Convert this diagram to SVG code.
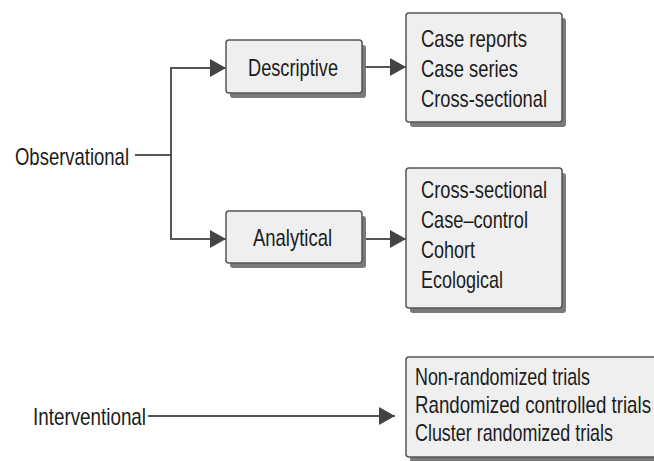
<svg xmlns="http://www.w3.org/2000/svg" width="654" height="461" viewBox="0 0 654 461">
<style>
.t{font-family:"Liberation Sans",Arial,sans-serif;font-size:24px;fill:#1c1c1c}
.box{fill:#efefef;stroke:#555;stroke-width:1.5}
.sh{fill:#7a7a7a}
.ln{fill:none;stroke:#555;stroke-width:2}
</style>
<defs>
<marker id="ah" markerUnits="userSpaceOnUse" viewBox="0 0 16 18" refX="16" refY="9" markerWidth="16" markerHeight="18" orient="auto">
<path d="M0,0 L16,9 L0,18 z" fill="#444"/>
</marker>
</defs>
<rect width="654" height="461" fill="#fff"/>
<g id="connectors">
<line class="ln" x1="135" y1="155" x2="171" y2="155"/>
<line class="ln" x1="171" y1="67" x2="171" y2="240"/>
<line class="ln" x1="170" y1="68" x2="226" y2="68" marker-end="url(#ah)"/>
<line class="ln" x1="170" y1="239" x2="226" y2="239" marker-end="url(#ah)"/>
<line class="ln" x1="362" y1="67" x2="406" y2="67" marker-end="url(#ah)"/>
<line class="ln" x1="362" y1="239" x2="406" y2="239" marker-end="url(#ah)"/>
<line class="ln" x1="148" y1="416" x2="395" y2="416" marker-end="url(#ah)"/>
</g>
<g id="observational">
<text class="t" x="15" y="165" textLength="114" lengthAdjust="spacingAndGlyphs">Observational</text>
</g>
<g id="interventional">
<text class="t" x="33" y="425" textLength="113" lengthAdjust="spacingAndGlyphs">Interventional</text>
</g>
<g id="descriptive">
<rect class="sh" x="230" y="45" width="136" height="53" rx="3"/>
<rect class="box" x="226" y="40" width="136" height="53" rx="3"/>
<text class="t" x="248" y="76" textLength="90" lengthAdjust="spacingAndGlyphs">Descriptive</text>
</g>
<g id="analytical">
<rect class="sh" x="230" y="216" width="136" height="52" rx="3"/>
<rect class="box" x="226" y="211" width="136" height="52" rx="3"/>
<text class="t" x="253" y="245.5" textLength="79" lengthAdjust="spacingAndGlyphs">Analytical</text>
</g>
<g id="descriptive-types">
<rect class="sh" x="410" y="18" width="156" height="109" rx="3"/>
<rect class="box" x="406" y="13" width="156" height="109" rx="3"/>
<text class="t" x="421" y="47" textLength="106" lengthAdjust="spacingAndGlyphs">Case reports</text>
<text class="t" x="421" y="77" textLength="97" lengthAdjust="spacingAndGlyphs">Case series</text>
<text class="t" x="421" y="107" textLength="126" lengthAdjust="spacingAndGlyphs">Cross-sectional</text>
</g>
<g id="analytical-types">
<rect class="sh" x="410" y="173" width="156" height="140" rx="3"/>
<rect class="box" x="406" y="168" width="156" height="140" rx="3"/>
<text class="t" x="421" y="198" textLength="126" lengthAdjust="spacingAndGlyphs">Cross-sectional</text>
<text class="t" x="421" y="228" textLength="107" lengthAdjust="spacingAndGlyphs">Case–control</text>
<text class="t" x="421" y="258" textLength="54" lengthAdjust="spacingAndGlyphs">Cohort</text>
<text class="t" x="421" y="288" textLength="82" lengthAdjust="spacingAndGlyphs">Ecological</text>
</g>
<g id="interventional-types">
<rect class="sh" x="410" y="362" width="260" height="100" rx="3"/>
<rect class="box" x="406" y="357" width="260" height="100" rx="3"/>
<text class="t" x="415" y="385" textLength="175" lengthAdjust="spacingAndGlyphs">Non-randomized trials</text>
<text class="t" x="415" y="413" textLength="236" lengthAdjust="spacingAndGlyphs">Randomized controlled trials</text>
<text class="t" x="415" y="441" textLength="198" lengthAdjust="spacingAndGlyphs">Cluster randomized trials</text>
</g>
</svg>
